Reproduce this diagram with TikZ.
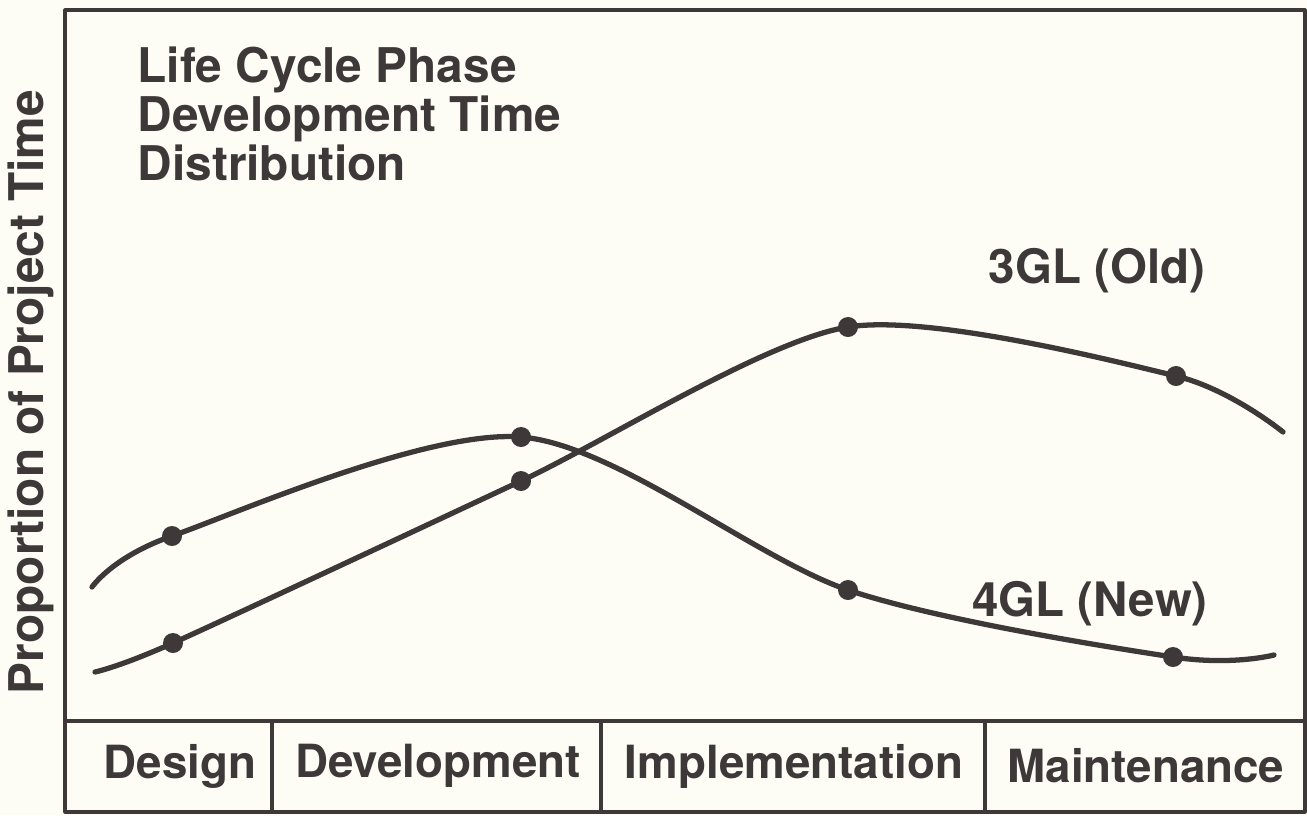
\documentclass[tikz,border=0pt]{standalone}
\usepackage{fontspec}
\setmainfont{TeX Gyre Heros}
\usepackage{xcolor}
\usetikzlibrary{calc}

\definecolor{ink}{HTML}{3E3838}
\definecolor{paper}{HTML}{FDFDF6}

\begin{document}
\begin{tikzpicture}[x=0.01cm, y=-0.01cm, line join=round, line cap=round,
		frame/.style={draw=ink, line width=0.9pt},
		curve/.style={draw=ink, line width=1.5pt},
		phase/.style={font=\bfseries\fontsize{13}{15}\selectfont, text=ink},
		tag/.style={font=\bfseries\fontsize{13.5}{15}\selectfont, text=ink}]
		%page and its margins
		\useasboundingbox (0,0) rectangle (1307,815);
		\fill[paper] (0,0) rectangle (1307,815);
		
		%definition of frame corners
		\coordinate (TL) at (65,10);
		\coordinate (BR) at (1305,812);
		\def\yTAB{721};
		
		%points of the 3GL curve
		\coordinate (o0) at (95,672);
		\coordinate (o1) at (173,643);
		\coordinate (o2) at (521,481);
		\coordinate (o3) at (848,327);
		\coordinate (o4) at (1176,376);
		\coordinate (o5) at (1283,432);
		
		%points of the 4GL curve
		\coordinate (n0) at (92,587);
		\coordinate (n1) at (172,536);
		\coordinate (n2) at (521,437);
		\coordinate (n3) at (848,590);
		\coordinate (n4) at (1173,657);
		\coordinate (n5) at (1274,655);
		
		%frame and phase table
		\draw[frame] (TL) rectangle (BR);
		\draw[frame] (65,\yTAB) -- (1305,\yTAB);
		\draw[frame] (272,\yTAB) -- (272,812);
		\draw[frame] (601,\yTAB) -- (601,812);
		\draw[frame] (985,\yTAB) -- (985,812);
		
		\node[phase] (design) at (180,766) {Design};
		\node[phase] (devel) at (438,766) {Development};
		\node[phase] (impl) at (794,766) {Implementation};
		\node[phase] (maint) at (1146,766) {Maintenance};
		
		%axis label and title
		\node[phase, font=\bfseries\fontsize{13.6}{15}\selectfont, rotate=90] (ylab) at (31,392) {Proportion of Project Time};
		\node[phase, font=\bfseries\fontsize{13.6}{14}\selectfont, align=left, anchor=north west, inner sep=0pt] (title) at (137,46)
			{Life Cycle Phase\\[0pt]Development Time\\[0pt]Distribution};
		
		%curves
		\draw[curve] plot[smooth, tension=0.45] coordinates {(o0) (o1) (o2) (o3) (o4) (o5)};
		\draw[curve] plot[smooth, tension=0.5] coordinates {(n0) (n1) (n2) (n3) (n4) (n5)};
		\foreach \p in {o1,o2,o3,o4,n1,n2,n3,n4}
			\fill[ink] (\p) circle[radius=0.1cm];
		
		\node[tag] (old) at (1097,271) {3GL (Old)};
		\node[tag] (new) at (1090,604) {4GL (New)};
	\end{tikzpicture}
\end{document}
